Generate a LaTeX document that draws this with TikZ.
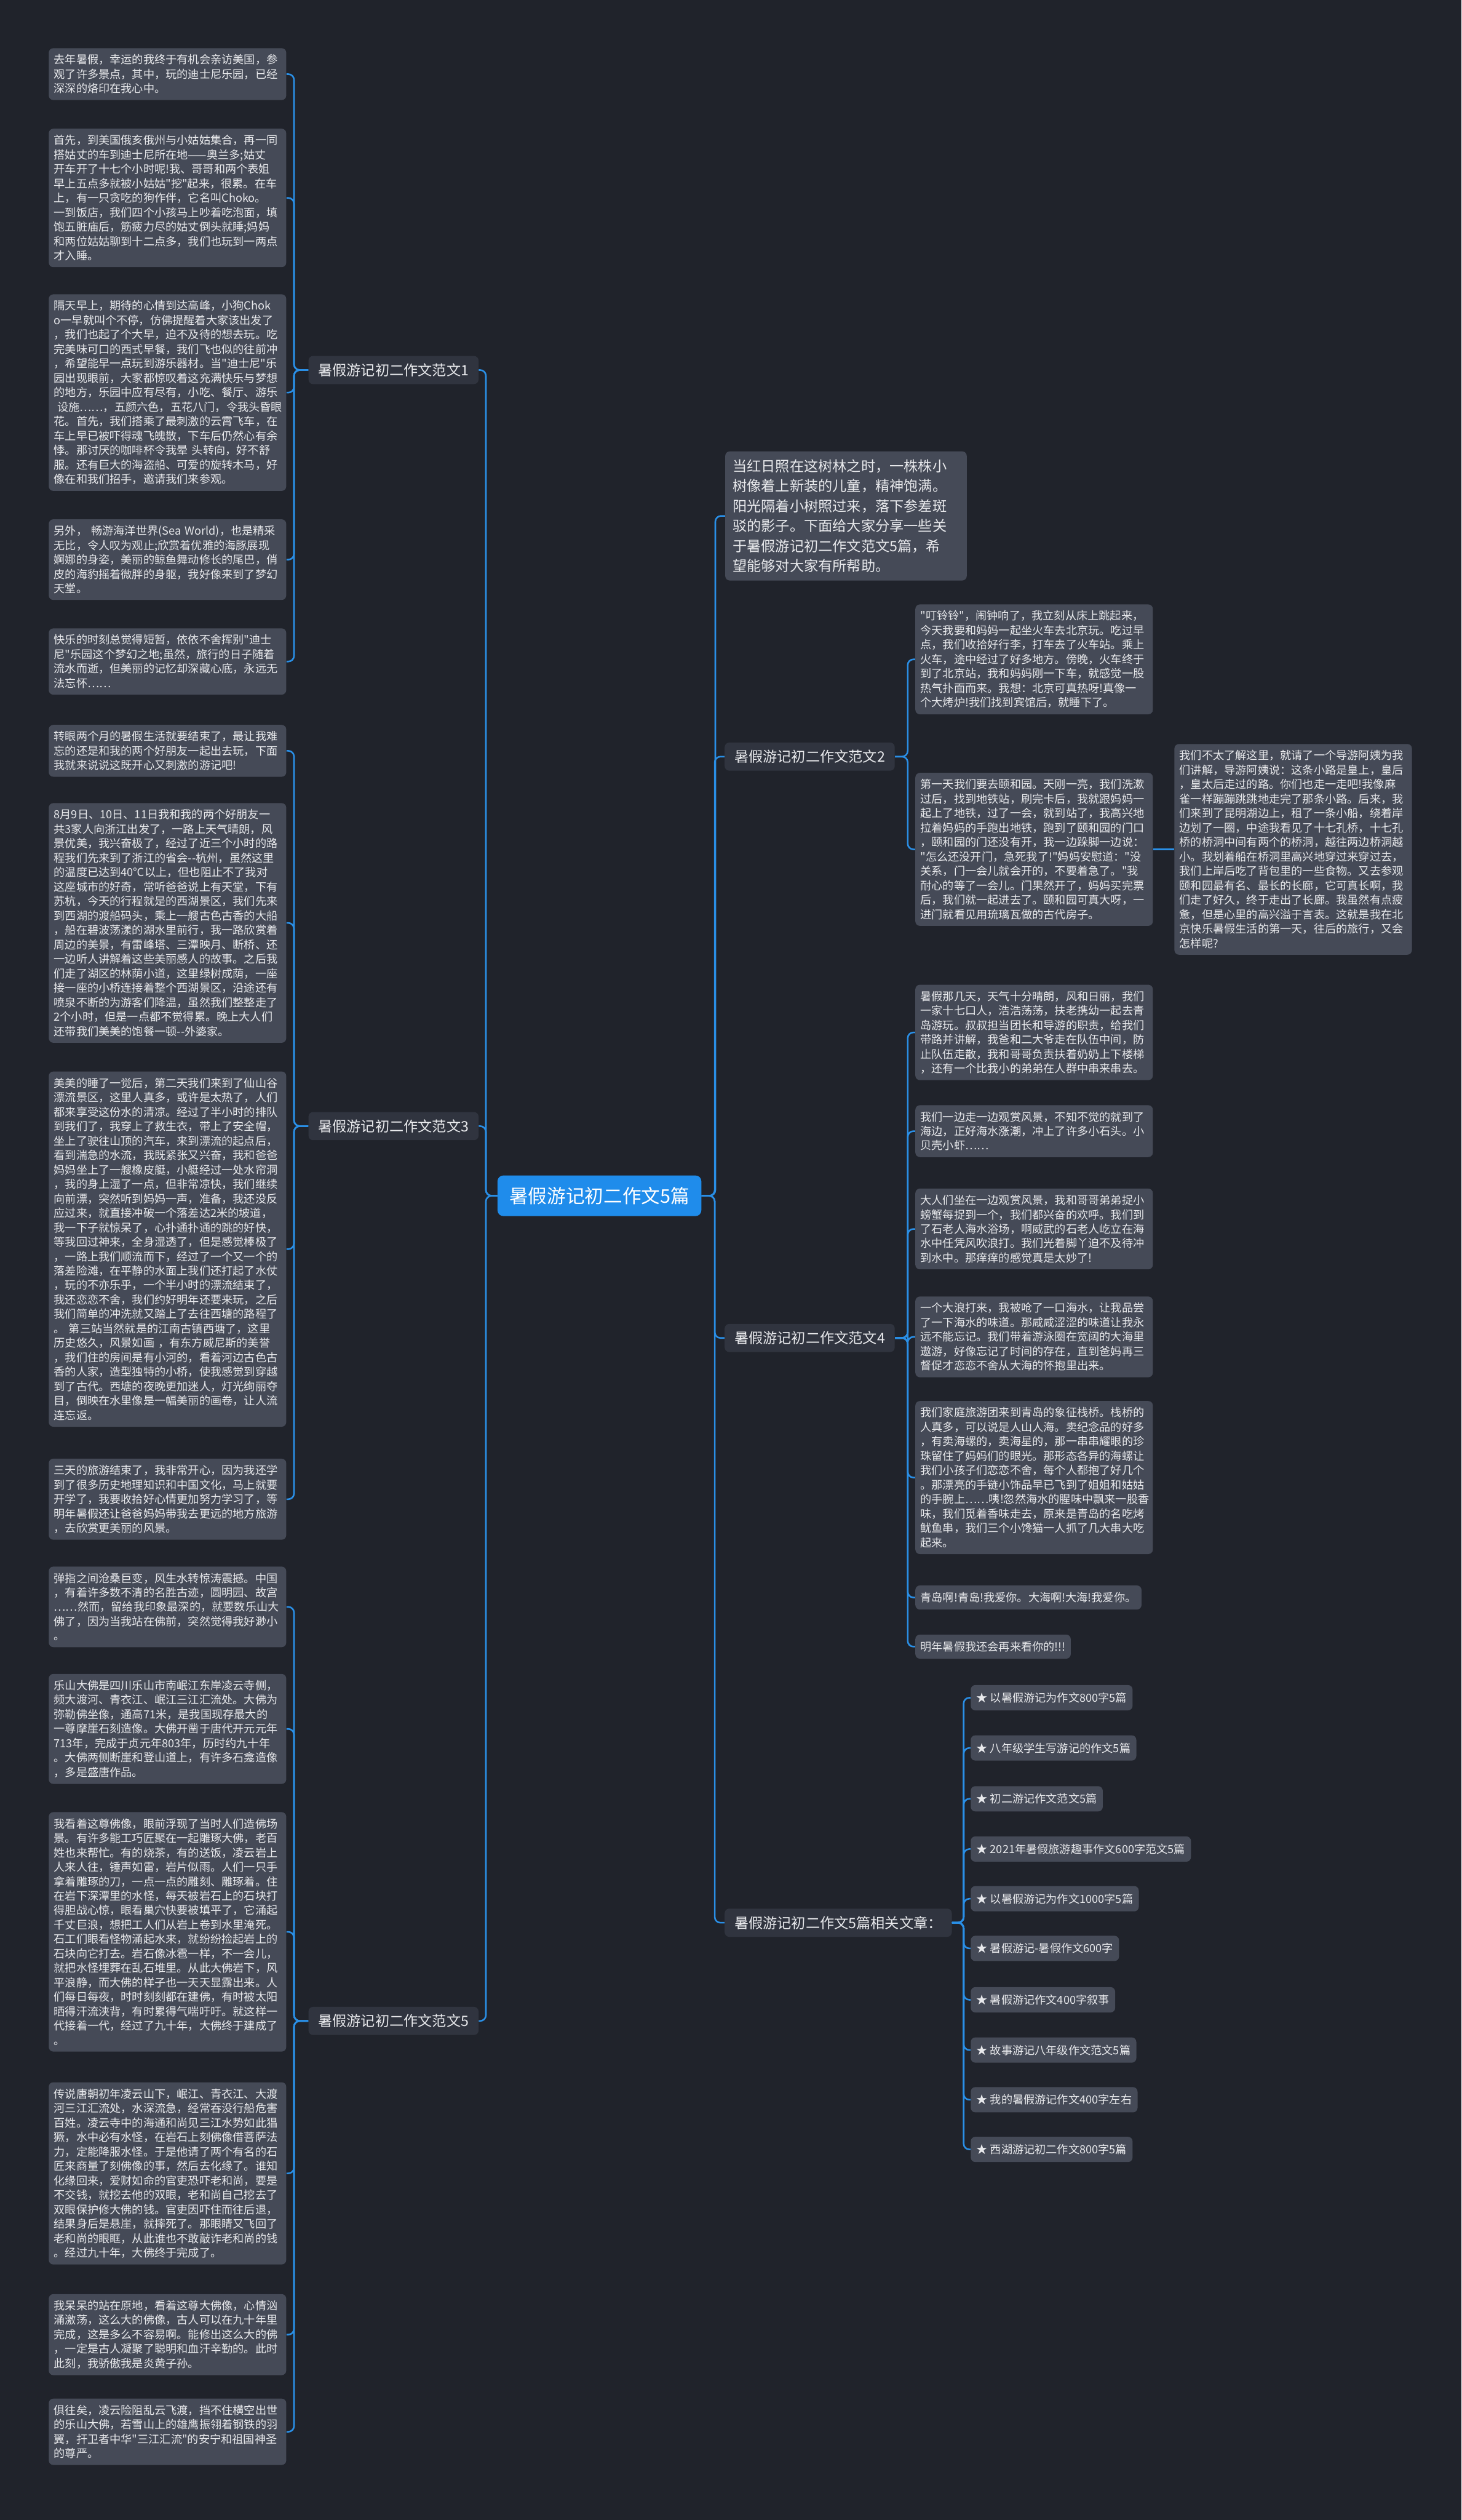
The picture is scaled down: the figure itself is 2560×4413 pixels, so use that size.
\documentclass[tikz,border=0pt]{standalone}
\usepackage{fontspec}
\newfontfamily\cjk{Noto Sans CJK SC}
\usetikzlibrary{positioning}
\definecolor{MapBg}{HTML}{20232B}
\definecolor{LeafFill}{HTML}{454A57}
\definecolor{TopicFill}{HTML}{30343F}
\definecolor{MapText}{HTML}{E8E9EC}
\definecolor{MapBlue}{HTML}{2A8FE6}
\definecolor{CentreBlue}{HTML}{1F8CEB}

\begin{document}
\begin{tikzpicture}[x=0.5pt, y=-0.5pt,
    every node/.style={font=\cjk, text=MapText},
    leaf/.style={rectangle, rounded corners=4pt, fill=LeafFill, anchor=north west, inner xsep=4.5pt, inner ysep=5.5pt, text width=199pt, align=left, font=\cjk\fontsize{9.8pt}{12.65pt}\selectfont},
    shortleaf/.style={rectangle, rounded corners=4pt, fill=LeafFill, anchor=north west, inner xsep=4.5pt, inner ysep=6pt, font=\cjk\fontsize{9.8pt}{12.65pt}\selectfont},
    listitem/.style={rectangle, rounded corners=4pt, fill=LeafFill, anchor=west, inner xsep=5pt, inner ysep=6.5pt, font=\cjk\fontsize{9.8pt}{12.65pt}\selectfont},
    intro/.style={rectangle, rounded corners=4pt, fill=LeafFill, anchor=north west, inner xsep=6.5pt, inner ysep=7pt, text width=198.5pt, align=left, font=\cjk\fontsize{12.5pt}{17.5pt}\selectfont},
    topic/.style={rectangle, rounded corners=4pt, fill=TopicFill, anchor=west, inner xsep=8.5pt, inner ysep=6.5pt, font=\cjk\fontsize{12.5pt}{15pt}\selectfont},
    centre/.style={rectangle, rounded corners=5pt, fill=CentreBlue, text=white, minimum width=178.5pt, minimum height=35.5pt, font=\cjk\fontsize{16.5pt}{20pt}\selectfont},
    link/.style={draw=MapBlue, line width=1.4pt, rounded corners=5pt}
  ]
    \fill[MapBg] (0,0) rectangle (2560,4413);
    \useasboundingbox (0,0) rectangle (2560,4413);

    \node[centre] (centre) at (1050,2094) {暑假游记初二作文5篇};

    % left side
    \node[topic] (t1) at (540,648) {暑假游记初二作文范文1};
    \node[topic] (t3) at (540,1972) {暑假游记初二作文范文3};
    \node[topic] (t5) at (540,3539) {暑假游记初二作文范文5};

    \node[leaf] (a1) at (85,84) {去年暑假，幸运的我终于有机会亲访美国，参\\观了许多景点，其中，玩的迪士尼乐园，已经\\深深的烙印在我心中。};
    \node[leaf] (a2) at (85,225) {首先，到美国俄亥俄州与小姑姑集合，再一同\\搭姑丈的车到迪士尼所在地——奥兰多;姑丈\\开车开了十七个小时呢!我、哥哥和两个表姐\\早上五点多就被小姑姑"挖"起来，很累。在车\\上，有一只贪吃的狗作伴，它名叫Choko。\\一到饭店，我们四个小孩马上吵着吃泡面，填\\饱五脏庙后，筋疲力尽的姑丈倒头就睡;妈妈\\和两位姑姑聊到十二点多，我们也玩到一两点\\才入睡。};
    \node[leaf] (a3) at (85,515) {隔天早上，期待的心情到达高峰，小狗Chok\\o一早就叫个不停，仿佛提醒着大家该出发了\\，我们也起了个大早，迫不及待的想去玩。吃\\完美味可口的西式早餐，我们飞也似的往前冲\\，希望能早一点玩到游乐器材。当"迪士尼"乐\\园出现眼前，大家都惊叹着这充满快乐与梦想\\的地方，乐园中应有尽有，小吃、餐厅、游乐\\\hspace*{0.3em}设施……，五颜六色，五花八门，令我头昏眼\\花。首先，我们搭乘了最刺激的云霄飞车，在\\车上早已被吓得魂飞魄散，下车后仍然心有余\\悸。那讨厌的咖啡杯令我晕 头转向，好不舒\\服。还有巨大的海盗船、可爱的旋转木马，好\\像在和我们招手，邀请我们来参观。};
    \node[leaf] (a4) at (85,909) {另外， 畅游海洋世界(Sea World)，也是精采\\无比，令人叹为观止;欣赏着优雅的海豚展现\\婀娜的身姿，美丽的鲸鱼舞动修长的尾巴，俏\\皮的海豹摇着微胖的身躯，我好像来到了梦幻\\天堂。};
    \node[leaf] (a5) at (85,1100) {快乐的时刻总觉得短暂，依依不舍挥别"迪士\\尼"乐园这个梦幻之地;虽然，旅行的日子随着\\流水而逝，但美丽的记忆却深藏心底，永远无\\法忘怀……};

    \node[leaf] (c1) at (85,1269) {转眼两个月的暑假生活就要结束了，最让我难\\忘的还是和我的两个好朋友一起出去玩，下面\\我就来说说这既开心又刺激的游记吧!};
    \node[leaf] (c2) at (85,1406) {8月9日、10日、11日我和我的两个好朋友一\\共3家人向浙江出发了，一路上天气晴朗，风\\景优美，我兴奋极了，经过了近三个小时的路\\程我们先来到了浙江的省会--杭州，虽然这里\\的温度已达到40℃以上，但也阻止不了我对\\这座城市的好奇，常听爸爸说上有天堂，下有\\苏杭，今天的行程就是的西湖景区，我们先来\\到西湖的渡船码头，乘上一艘古色古香的大船\\，船在碧波荡漾的湖水里前行，我一路欣赏着\\周边的美景，有雷峰塔、三潭映月、断桥、还\\一边听人讲解着这些美丽感人的故事。之后我\\们走了湖区的林荫小道，这里绿树成荫，一座\\接一座的小桥连接着整个西湖景区，沿途还有\\喷泉不断的为游客们降温，虽然我们整整走了\\2个小时，但是一点都不觉得累。晚上大人们\\还带我们美美的饱餐一顿--外婆家。};
    \node[leaf] (c3) at (85,1876) {美美的睡了一觉后，第二天我们来到了仙山谷\\漂流景区，这里人真多，或许是太热了，人们\\都来享受这份水的清凉。经过了半小时的排队\\到我们了，我穿上了救生衣，带上了安全帽，\\坐上了驶往山顶的汽车，来到漂流的起点后，\\看到湍急的水流，我既紧张又兴奋，我和爸爸\\妈妈坐上了一艘橡皮艇，小艇经过一处水帘洞\\，我的身上湿了一点，但非常凉快，我们继续\\向前漂，突然听到妈妈一声，准备，我还没反\\应过来，就直接冲破一个落差达2米的坡道，\\我一下子就惊呆了，心扑通扑通的跳的好快，\\等我回过神来，全身湿透了，但是感觉棒极了\\，一路上我们顺流而下，经过了一个又一个的\\落差险滩，在平静的水面上我们还打起了水仗\\，玩的不亦乐乎，一个半小时的漂流结束了，\\我还恋恋不舍，我们约好明年还要来玩，之后\\我们简单的冲洗就又踏上了去往西塘的路程了\\。 第三站当然就是的江南古镇西塘了，这里\\历史悠久，风景如画 ，有东方威尼斯的美誉\\，我们住的房间是有小河的，看着河边古色古\\香的人家，造型独特的小桥，使我感觉到穿越\\到了古代。西塘的夜晚更加迷人，灯光绚丽夺\\目，倒映在水里像是一幅美丽的画卷，让人流\\连忘返。};
    \node[leaf] (c4) at (85,2554) {三天的旅游结束了，我非常开心，因为我还学\\到了很多历史地理知识和中国文化，马上就要\\开学了，我要收拾好心情更加努力学习了，等\\明年暑假还让爸爸妈妈带我去更远的地方旅游\\，去欣赏更美丽的风景。};

    \node[leaf] (e1) at (85,2743) {弹指之间沧桑巨变，风生水转惊涛震撼。中国\\，有着许多数不清的名胜古迹，圆明园、故宫\\……然而，留给我印象最深的，就要数乐山大\\佛了，因为当我站在佛前，突然觉得我好渺小\\。};
    \node[leaf] (e2) at (85,2931) {乐山大佛是四川乐山市南岷江东岸凌云寺侧，\\频大渡河、青衣江、岷江三江汇流处。大佛为\\弥勒佛坐像，通高71米，是我国现存最大的\\一尊摩崖石刻造像。大佛开凿于唐代开元元年\\713年，完成于贞元年803年，历时约九十年\\。大佛两侧断崖和登山道上，有许多石龛造像\\，多是盛唐作品。};
    \node[leaf] (e3) at (85,3173) {我看着这尊佛像，眼前浮现了当时人们造佛场\\景。有许多能工巧匠聚在一起雕琢大佛，老百\\姓也来帮忙。有的烧茶，有的送饭，凌云岩上\\人来人往，锤声如雷，岩片似雨。人们一只手\\拿着雕琢的刀，一点一点的雕刻、雕琢着。住\\在岩下深潭里的水怪，每天被岩石上的石块打\\得胆战心惊，眼看巢穴快要被填平了，它涌起\\千丈巨浪，想把工人们从岩上卷到水里淹死。\\石工们眼看怪物涌起水来，就纷纷捡起岩上的\\石块向它打去。岩石像冰雹一样，不一会儿，\\就把水怪埋葬在乱石堆里。从此大佛岩下，风\\平浪静，而大佛的样子也一天天显露出来。人\\们每日每夜，时时刻刻都在建佛，有时被太阳\\晒得汗流浃背，有时累得气喘吁吁。就这样一\\代接着一代，经过了九十年，大佛终于建成了\\。};
    \node[leaf] (e4) at (85,3646) {传说唐朝初年凌云山下，岷江、青衣江、大渡\\河三江汇流处，水深流急，经常吞没行船危害\\百姓。凌云寺中的海通和尚见三江水势如此猖\\獗，水中必有水怪，在岩石上刻佛像借菩萨法\\力，定能降服水怪。于是他请了两个有名的石\\匠来商量了刻佛像的事，然后去化缘了。谁知\\化缘回来，爱财如命的官吏恐吓老和尚，要是\\不交钱，就挖去他的双眼，老和尚自己挖去了\\双眼保护修大佛的钱。官吏因吓住而往后退，\\结果身后是悬崖，就摔死了。那眼睛又飞回了\\老和尚的眼眶，从此谁也不敢敲诈老和尚的钱\\。经过九十年，大佛终于完成了。};
    \node[leaf] (e5) at (85,4017) {我呆呆的站在原地，看着这尊大佛像，心情汹\\涌激荡，这么大的佛像，古人可以在九十年里\\完成，这是多么不容易啊。能修出这么大的佛\\，一定是古人凝聚了聪明和血汗辛勤的。此时\\此刻，我骄傲我是炎黄子孙。};
    \node[leaf] (e6) at (85,4200) {俱往矣，凌云险阻乱云飞渡，挡不住横空出世\\的乐山大佛，若雪山上的雄鹰振翎着钢铁的羽\\翼，扞卫者中华"三江汇流"的安宁和祖国神圣\\的尊严。};

    % right side
    \node[intro] (lead) at (1270,790) {当红日照在这树林之时，一株株小\\树像着上新装的儿童，精神饱满。\\阳光隔着小树照过来，落下参差斑\\驳的影子。下面给大家分享一些关\\于暑假游记初二作文范文5篇，希\\望能够对大家有所帮助。};
    \node[topic] (t2) at (1269,1325) {暑假游记初二作文范文2};
    \node[topic] (t4) at (1269,2343) {暑假游记初二作文范文4};
    \node[topic] (t6) at (1269,3367) {暑假游记初二作文5篇相关文章：};

    \node[leaf] (b1) at (1603,1058) {"叮铃铃"，闹钟响了，我立刻从床上跳起来，\\今天我要和妈妈一起坐火车去北京玩。吃过早\\点，我们收拾好行李，打车去了火车站。乘上\\火车，途中经过了好多地方。傍晚，火车终于\\到了北京站，我和妈妈刚一下车，就感觉一股\\热气扑面而来。我想：北京可真热呀!真像一\\个大烤炉!我们找到宾馆后，就睡下了。};
    \node[leaf] (b2) at (1603,1353) {第一天我们要去颐和园。天刚一亮，我们洗漱\\过后，找到地铁站，刷完卡后，我就跟妈妈一\\起上了地铁，过了一会，就到站了，我高兴地\\拉着妈妈的手跑出地铁，跑到了颐和园的门口\\，颐和园的门还没有开，我一边跺脚一边说：\\"怎么还没开门，急死我了!"妈妈安慰道："没\\关系，门一会儿就会开的，不要着急了。"我\\耐心的等了一会儿。门果然开了，妈妈买完票\\后，我们就一起进去了。颐和园可真大呀，一\\进门就看见用琉璃瓦做的古代房子。};
    \node[leaf, anchor=west, right=18.5pt of b2] (b3) {我们不太了解这里，就请了一个导游阿姨为我\\们讲解，导游阿姨说：这条小路是皇上，皇后\\，皇太后走过的路。你们也走一走吧!我像麻\\雀一样蹦蹦跳跳地走完了那条小路。后来，我\\们来到了昆明湖边上，租了一条小船，绕着岸\\边划了一圈，中途我看见了十七孔桥，十七孔\\桥的桥洞中间有两个的桥洞，越往两边桥洞越\\小。我划着船在桥洞里高兴地穿过来穿过去，\\我们上岸后吃了背包里的一些食物。又去参观\\颐和园最有名、最长的长廊，它可真长啊，我\\们走了好久，终于走出了长廊。我虽然有点疲\\惫，但是心里的高兴溢于言表。这就是我在北\\京快乐暑假生活的第一天，往后的旅行，又会\\怎样呢?};

    \node[leaf] (d1) at (1603,1724) {暑假那几天，天气十分晴朗，风和日丽，我们\\一家十七口人，浩浩荡荡，扶老携幼一起去青\\岛游玩。叔叔担当团长和导游的职责，给我们\\带路并讲解，我爸和二大爷走在队伍中间，防\\止队伍走散，我和哥哥负责扶着奶奶上下楼梯\\，还有一个比我小的弟弟在人群中串来串去。};
    \node[leaf] (d2) at (1603,1935) {我们一边走一边观赏风景，不知不觉的就到了\\海边，正好海水涨潮，冲上了许多小石头。小\\贝壳小虾……};
    \node[leaf] (d3) at (1603,2081) {大人们坐在一边观赏风景，我和哥哥弟弟捉小\\螃蟹每捉到一个，我们都兴奋的欢呼。我们到\\了石老人海水浴场，啊威武的石老人屹立在海\\水中任凭风吹浪打。我们光着脚丫迫不及待冲\\到水中。那痒痒的感觉真是太妙了!};
    \node[leaf] (d4) at (1603,2270) {一个大浪打来，我被呛了一口海水，让我品尝\\了一下海水的味道。那咸咸涩涩的味道让我永\\远不能忘记。我们带着游泳圈在宽阔的大海里\\遨游，好像忘记了时间的存在，直到爸妈再三\\督促才恋恋不舍从大海的怀抱里出来。};
    \node[leaf] (d5) at (1603,2453) {我们家庭旅游团来到青岛的象征栈桥。栈桥的\\人真多，可以说是人山人海。卖纪念品的好多\\，有卖海螺的，卖海星的，那一串串耀眼的珍\\珠留住了妈妈们的眼光。那形态各异的海螺让\\我们小孩子们恋恋不舍，每个人都抱了好几个\\。那漂亮的手链小饰品早已飞到了姐姐和姑姑\\的手腕上……咦!忽然海水的腥味中飘来一股香\\味，我们觅着香味走去，原来是青岛的名吃烤\\鱿鱼串，我们三个小馋猫一人抓了几大串大吃\\起来。};
    \node[shortleaf] (d6) at (1603,2776) {青岛啊!青岛!我爱你。大海啊!大海!我爱你。};
    \node[shortleaf] (d7) at (1603,2862) {明年暑假我还会再来看你的!!!};

    \node[listitem] (f1) at (1700,2973) {★ 以暑假游记为作文800字5篇};
    \node[listitem] (f2) at (1700,3061) {★ 八年级学生写游记的作文5篇};
    \node[listitem] (f3) at (1700,3150) {★ 初二游记作文范文5篇};
    \node[listitem] (f4) at (1700,3238) {★ 2021年暑假旅游趣事作文600字范文5篇};
    \node[listitem] (f5) at (1700,3325) {★ 以暑假游记为作文1000字5篇};
    \node[listitem] (f6) at (1700,3412) {★ 暑假游记-暑假作文600字};
    \node[listitem] (f7) at (1700,3502) {★ 暑假游记作文400字叙事};
    \node[listitem] (f8) at (1700,3590) {★ 故事游记八年级作文范文5篇};
    \node[listitem] (f9) at (1700,3677) {★ 我的暑假游记作文400字左右};
    \node[listitem] (f10) at (1700,3764) {★ 西湖游记初二作文800字5篇};

    % connectors
    \draw[link] (t1.east) -| ([xshift=-10pt]centre.west) -- (centre.west);
    \draw[link] (t3.east) -| ([xshift=-10pt]centre.west) -- (centre.west);
    \draw[link] (t5.east) -| ([xshift=-10pt]centre.west) -- (centre.west);
    \draw[link] (centre.east) -| ([xshift=-8.5pt]lead.west) -- (lead.west);
    \draw[link] (centre.east) -| ([xshift=-8.5pt]t2.west) -- (t2.west);
    \draw[link] (centre.east) -| ([xshift=-8.5pt]t4.west) -- (t4.west);
    \draw[link] (centre.east) -| ([xshift=-8.5pt]t6.west) -- (t6.west);

    \draw[link] (a1.east) -| ([xshift=-12.5pt]t1.west) -- (t1.west);
    \draw[link] (a2.east) -| ([xshift=-12.5pt]t1.west) -- (t1.west);
    \draw[link] (a3.east) -| ([xshift=-12.5pt]t1.west) -- (t1.west);
    \draw[link] (a4.east) -| ([xshift=-12.5pt]t1.west) -- (t1.west);
    \draw[link] (a5.east) -| ([xshift=-12.5pt]t1.west) -- (t1.west);
    \draw[link] (c1.east) -| ([xshift=-12.5pt]t3.west) -- (t3.west);
    \draw[link] (c2.east) -| ([xshift=-12.5pt]t3.west) -- (t3.west);
    \draw[link] (c3.east) -| ([xshift=-12.5pt]t3.west) -- (t3.west);
    \draw[link] (c4.east) -| ([xshift=-12.5pt]t3.west) -- (t3.west);
    \draw[link] (e1.east) -| ([xshift=-12.5pt]t5.west) -- (t5.west);
    \draw[link] (e2.east) -| ([xshift=-12.5pt]t5.west) -- (t5.west);
    \draw[link] (e3.east) -| ([xshift=-12.5pt]t5.west) -- (t5.west);
    \draw[link] (e4.east) -| ([xshift=-12.5pt]t5.west) -- (t5.west);
    \draw[link] (e5.east) -| ([xshift=-12.5pt]t5.west) -- (t5.west);
    \draw[link] (e6.east) -| ([xshift=-12.5pt]t5.west) -- (t5.west);

    \draw[link] (t2.east) -| ([xshift=-6.5pt]b1.west) -- (b1.west);
    \draw[link] (t2.east) -| ([xshift=-6.5pt]b2.west) -- (b2.west);
    \draw[link] (b2.east) -- (b3.west);
    \draw[link] (t4.east) -| ([xshift=-6.5pt]d1.west) -- (d1.west);
    \draw[link] (t4.east) -| ([xshift=-6.5pt]d2.west) -- (d2.west);
    \draw[link] (t4.east) -| ([xshift=-6.5pt]d3.west) -- (d3.west);
    \draw[link] (t4.east) -| ([xshift=-6.5pt]d4.west) -- (d4.west);
    \draw[link] (t4.east) -| ([xshift=-6.5pt]d5.west) -- (d5.west);
    \draw[link] (t4.east) -| ([xshift=-6.5pt]d6.west) -- (d6.west);
    \draw[link] (t4.east) -| ([xshift=-6.5pt]d7.west) -- (d7.west);
    \draw[link] (t6.east) -| ([xshift=-6pt]f1.west) -- (f1.west);
    \draw[link] (t6.east) -| ([xshift=-6pt]f2.west) -- (f2.west);
    \draw[link] (t6.east) -| ([xshift=-6pt]f3.west) -- (f3.west);
    \draw[link] (t6.east) -| ([xshift=-6pt]f4.west) -- (f4.west);
    \draw[link] (t6.east) -| ([xshift=-6pt]f5.west) -- (f5.west);
    \draw[link] (t6.east) -| ([xshift=-6pt]f6.west) -- (f6.west);
    \draw[link] (t6.east) -| ([xshift=-6pt]f7.west) -- (f7.west);
    \draw[link] (t6.east) -| ([xshift=-6pt]f8.west) -- (f8.west);
    \draw[link] (t6.east) -| ([xshift=-6pt]f9.west) -- (f9.west);
    \draw[link] (t6.east) -| ([xshift=-6pt]f10.west) -- (f10.west);
\end{tikzpicture}
\end{document}
